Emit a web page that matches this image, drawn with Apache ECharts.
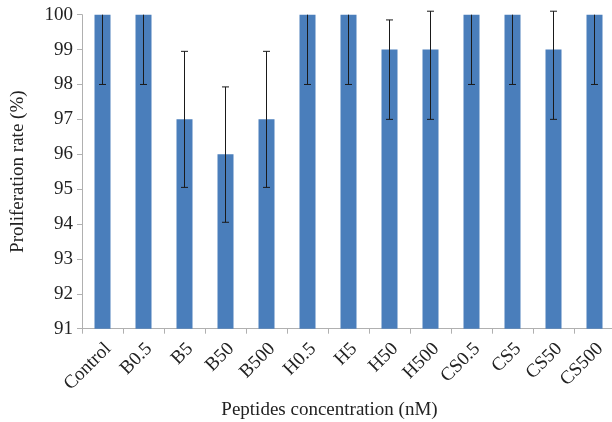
<!DOCTYPE html>
<html><head><meta charset="utf-8">
<script src="https://cdn.jsdelivr.net/npm/echarts@6/dist/echarts.min.js"></script>
<style>html,body{margin:0;padding:0;background:#fff}#c{width:612px;height:422px}</style>
</head><body><div id="c"></div>
<script>
const categories = ['Control','B0.5','B5','B50','B500','H0.5','H5','H50','H500','CS0.5','CS5','CS50','CS500'];
const values = [100,100,97,96,97,100,100,99,99,100,100,99,100];
const errLower = [98,98,95.05,94.05,95.05,98,98,97,97,98,98,97,98];
const errUpper = [null,null,98.95,97.93,98.95,null,null,99.85,100.1,null,null,100.1,null];
const yTicks = [91,92,93,94,95,96,97,98,99,100];

const font = 'Liberation Serif';
const chart = echarts.init(document.getElementById('c'), null, {renderer:'canvas'});
const errData = categories.map((c,i)=>[i, values[i], errLower[i], errUpper[i]]);
chart.setOption({
  animation:false,
  grid:{left:82, right:-3, top:14.7, bottom:93.3, containLabel:false, outerBoundsMode:'none'},
  xAxis:{
    type:'category', data:categories,
    axisLine:{lineStyle:{color:'#b0b0b0', width:1}},
    axisTick:{show:true, length:5, lineStyle:{color:'#b0b0b0'}},
    axisLabel:{rotate:45, color:'#222', fontFamily:font, fontSize:19, margin:23, interval:0, padding:[0,-8,0,0]},
    name:'Peptides concentration (nM)', nameLocation:'middle', nameGap:72,
    nameTextStyle:{color:'#222', fontFamily:font, fontSize:19, padding:[0,38,0,0]}
  },
  yAxis:{
    type:'value', min:yTicks[0], max:yTicks[yTicks.length-1], interval:1,
    axisLine:{show:true, lineStyle:{color:'#b0b0b0', width:1}},
    axisTick:{show:true, length:5, lineStyle:{color:'#b0b0b0'}},
    splitLine:{show:false},
    axisLabel:{color:'#222', fontFamily:font, fontSize:19, margin:9},
    name:'Proliferation rate (%)', nameLocation:'middle', nameGap:54,
    nameTextStyle:{color:'#222', fontFamily:font, fontSize:19}
  },
  series:[
    {type:'bar', data:values, barWidth:16, itemStyle:{color:'#4a7ebb'}},
    {type:'custom', data:errData, clip:false, z:5,
     renderItem:function(params, api){
       const i = api.value(0);
       const lo = api.value(2), hi = api.value(3);
       const v = api.value(1);
       const children = [];
       const pV = api.coord([i, v]);
       const pLo = api.coord([i, lo]);
       const cap = 3.5;
       const st = {stroke:'#1a1a1a', lineWidth:1};
       let top = pV[1];
       if (hi !== null && hi !== undefined && !isNaN(hi)) {
         const pHi = api.coord([i, hi]);
         top = pHi[1];
         children.push({type:'line', shape:{x1:pHi[0]-cap, y1:pHi[1], x2:pHi[0]+cap, y2:pHi[1]}, style:st});
       }
       children.push({type:'line', shape:{x1:pV[0], y1:top, x2:pV[0], y2:pLo[1]}, style:st});
       children.push({type:'line', shape:{x1:pLo[0]-cap, y1:pLo[1], x2:pLo[0]+cap, y2:pLo[1]}, style:st});
       return {type:'group', children:children};
     }
    }
  ]
});
</script></body></html>
